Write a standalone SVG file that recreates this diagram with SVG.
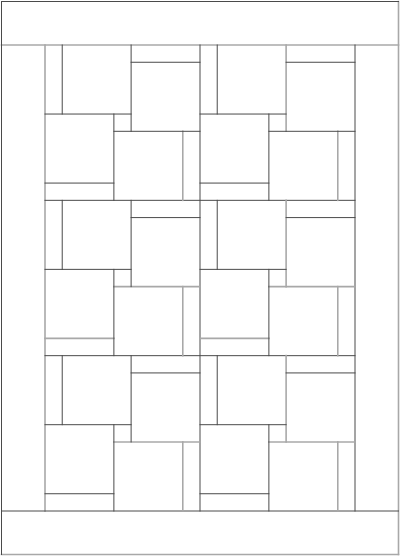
<svg xmlns="http://www.w3.org/2000/svg" width="400" height="556" viewBox="0 0 400 556">
<style>
line{fill:none;stroke-linecap:square}
.d{stroke:#4a4a4a;stroke-width:1}
.g{stroke:#a8a8a8;stroke-width:1.6}
</style>
<rect x="0" y="0" width="400" height="556" fill="#ffffff"/>
<g id="border">
<line class="g" x1="398.5" y1="1.5" x2="398.5" y2="554.5"/>
<line class="g" x1="1.5" y1="554.5" x2="398.5" y2="554.5"/>
<line class="g" x1="1.5" y1="45" x2="398.5" y2="45"/>
<line class="g" x1="45" y1="45" x2="45" y2="511"/>
<line class="d" x1="1.5" y1="1.5" x2="398.5" y2="1.5"/>
<line class="d" x1="1.5" y1="1.5" x2="1.5" y2="554.5"/>
<line class="d" x1="1.5" y1="511" x2="398.5" y2="511"/>
<line class="d" x1="355" y1="45" x2="355" y2="511"/>
</g>
<g id="grid">
<line class="d" x1="45" y1="200.33" x2="355" y2="200.33"/>
<line class="d" x1="45" y1="355.67" x2="355" y2="355.67"/>
<line class="d" x1="200" y1="45" x2="200" y2="511"/>
</g>
<g id="blockA">
<line class="g" x1="182.78" y1="131.3" x2="182.78" y2="200.33"/>
<line class="d" x1="62.22" y1="45" x2="62.22" y2="114.04"/>
<line class="d" x1="45" y1="114.04" x2="131.11" y2="114.04"/>
<line class="d" x1="131.11" y1="45" x2="131.11" y2="131.3"/>
<line class="d" x1="131.11" y1="62.26" x2="200" y2="62.26"/>
<line class="d" x1="113.89" y1="114.04" x2="113.89" y2="200.33"/>
<line class="d" x1="113.89" y1="131.3" x2="200" y2="131.3"/>
<line class="d" x1="45" y1="183.07" x2="113.89" y2="183.07"/>
</g>
<g id="blockB">
<line class="g" x1="286.11" y1="45" x2="286.11" y2="131.3"/>
<line class="g" x1="337.78" y1="131.3" x2="337.78" y2="200.33"/>
<line class="d" x1="217.22" y1="45" x2="217.22" y2="114.04"/>
<line class="d" x1="200" y1="114.04" x2="286.11" y2="114.04"/>
<line class="d" x1="286.11" y1="62.26" x2="355" y2="62.26"/>
<line class="d" x1="268.89" y1="114.04" x2="268.89" y2="200.33"/>
<line class="d" x1="268.89" y1="131.3" x2="355" y2="131.3"/>
<line class="d" x1="200" y1="183.07" x2="268.89" y2="183.07"/>
</g>
<g id="blockC">
<line class="g" x1="113.89" y1="286.63" x2="200" y2="286.63"/>
<line class="g" x1="45" y1="338.41" x2="113.89" y2="338.41"/>
<line class="g" x1="182.78" y1="286.63" x2="182.78" y2="355.67"/>
<line class="d" x1="62.22" y1="200.33" x2="62.22" y2="269.37"/>
<line class="d" x1="45" y1="269.37" x2="131.11" y2="269.37"/>
<line class="d" x1="131.11" y1="200.33" x2="131.11" y2="286.63"/>
<line class="d" x1="131.11" y1="217.59" x2="200" y2="217.59"/>
<line class="d" x1="113.89" y1="269.37" x2="113.89" y2="355.67"/>
</g>
<g id="blockD">
<line class="g" x1="286.11" y1="200.33" x2="286.11" y2="286.63"/>
<line class="g" x1="268.89" y1="286.63" x2="355" y2="286.63"/>
<line class="g" x1="200" y1="338.41" x2="268.89" y2="338.41"/>
<line class="g" x1="337.78" y1="286.63" x2="337.78" y2="355.67"/>
<line class="d" x1="217.22" y1="200.33" x2="217.22" y2="269.37"/>
<line class="d" x1="200" y1="269.37" x2="286.11" y2="269.37"/>
<line class="d" x1="286.11" y1="217.59" x2="355" y2="217.59"/>
<line class="d" x1="268.89" y1="269.37" x2="268.89" y2="355.67"/>
</g>
<g id="blockE">
<line class="g" x1="113.89" y1="441.96" x2="200" y2="441.96"/>
<line class="g" x1="182.78" y1="441.96" x2="182.78" y2="511"/>
<line class="d" x1="62.22" y1="355.67" x2="62.22" y2="424.7"/>
<line class="d" x1="45" y1="424.7" x2="131.11" y2="424.7"/>
<line class="d" x1="131.11" y1="355.67" x2="131.11" y2="441.96"/>
<line class="d" x1="131.11" y1="372.93" x2="200" y2="372.93"/>
<line class="d" x1="113.89" y1="424.7" x2="113.89" y2="511"/>
<line class="d" x1="45" y1="493.74" x2="113.89" y2="493.74"/>
</g>
<g id="blockF">
<line class="g" x1="286.11" y1="355.67" x2="286.11" y2="441.96"/>
<line class="g" x1="268.89" y1="441.96" x2="355" y2="441.96"/>
<line class="g" x1="337.78" y1="441.96" x2="337.78" y2="511"/>
<line class="d" x1="217.22" y1="355.67" x2="217.22" y2="424.7"/>
<line class="d" x1="200" y1="424.7" x2="286.11" y2="424.7"/>
<line class="d" x1="286.11" y1="372.93" x2="355" y2="372.93"/>
<line class="d" x1="268.89" y1="424.7" x2="268.89" y2="511"/>
<line class="d" x1="200" y1="493.74" x2="268.89" y2="493.74"/>
</g>
</svg>
